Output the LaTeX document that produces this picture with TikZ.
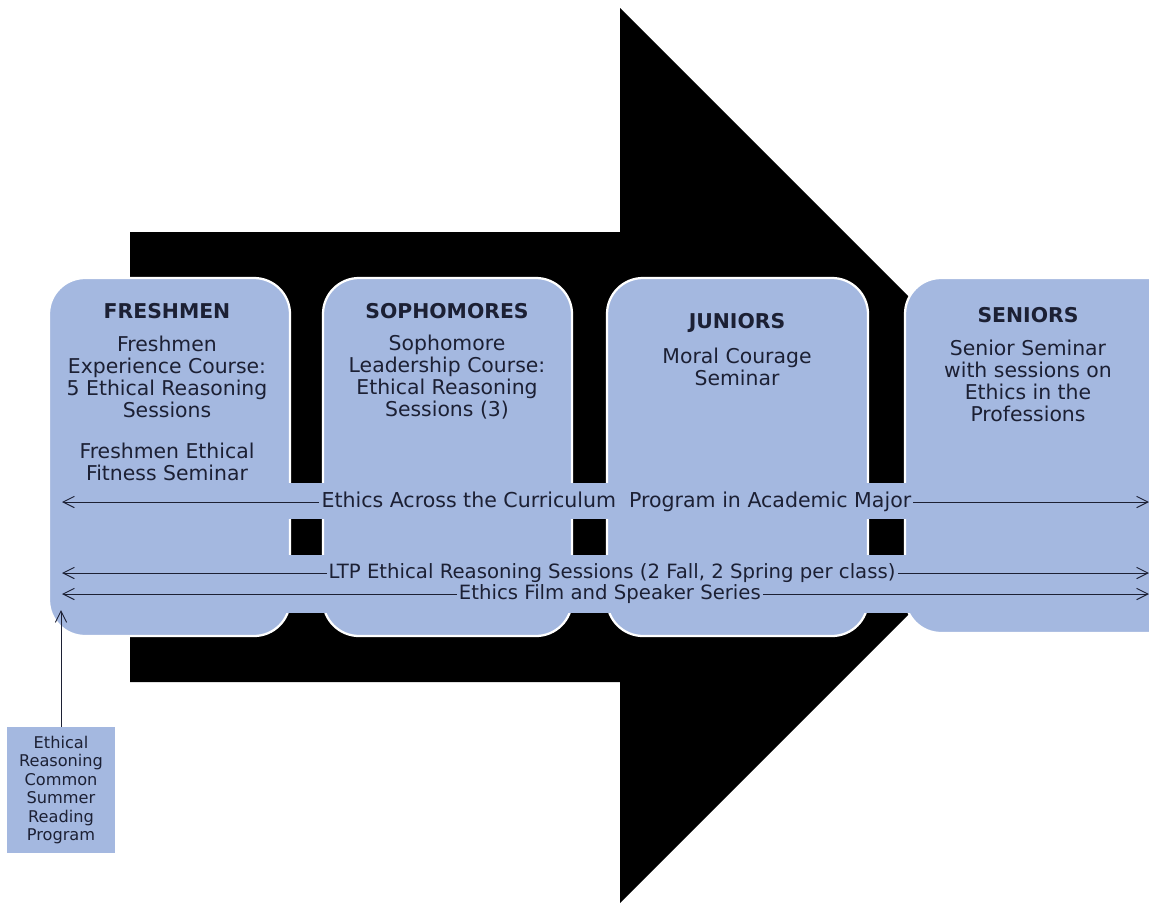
\documentclass[tikz,border=0pt]{standalone}
\usepackage{fontspec}
\setmainfont{DejaVu Sans}
\usetikzlibrary{arrows.meta}

\definecolor{boxblue}{RGB}{164,184,224}
\definecolor{inkblue}{RGB}{28,32,52}

\tikzset{
    yearbox/.style={draw=white, line width=1.6pt, fill=boxblue, rounded corners=0.9cm},
    bandbox/.style={fill=boxblue},
    yearhead/.style={font=\fontsize{14.5}{17}\selectfont\bfseries, text=inkblue},
    yeartext/.style={font=\fontsize{14.5}{15.6}\selectfont, text=inkblue, align=center},
    spanline/.style={draw=inkblue, line width=0.7pt, {Straight Barb[length=8pt,width=8pt]}-{Straight Barb[length=8pt,width=8pt]}},
    spantext/.style={font=\fontsize{14}{15.6}\selectfont, text=inkblue, fill=boxblue, inner sep=1.5pt}
}

\begin{document}
\begin{tikzpicture}[x=0.025cm, y=-0.025cm]
    \clip (0,0) rectangle (1149,903);
    \useasboundingbox (0,0) rectangle (1149,903);
    % big black arrow
    \fill[black] (130,232) -- (620,232) -- (620,8) -- (1067.5,455.5) -- (620,903) -- (620,682) -- (130,682) -- cycle;
    % the four years
    \path[yearbox] (49,278) rectangle (290,636);
    \path[yearbox] (323,278) rectangle (572,636);
    \path[yearbox] (607,278) rectangle (868,636);
    \path[yearbox] (905,278) rectangle (1190,633);
    \fill[bandbox] (55,483) rectangle (1149,519);
    \fill[bandbox] (55,555) rectangle (1149,613);

    \node[yearhead] (frhead) at (167,311) {FRESHMEN};
    \node[yeartext] (frtext) at (167,377) {Freshmen\\Experience Course:\\5 Ethical Reasoning\\Sessions};
    \node[yeartext] (frfit) at (167,462) {Freshmen Ethical\\Fitness Seminar};
    \node[yearhead] (sohead) at (447,311) {SOPHOMORES};
    \node[yeartext] (sotext) at (447,377) {Sophomore\\Leadership Course:\\Ethical Reasoning\\Sessions (3)};
    \node[yearhead] (juhead) at (737,323) {JUNIORS};
    \node[yeartext] (jutext) at (737,367) {Moral Courage\\Seminar};
    \node[yearhead] (sehead) at (1028,315) {SENIORS};
    \node[yeartext] (setext) at (1028,381) {Senior Seminar\\with sessions on\\Ethics in the\\Professions};

    % programs running through all four years
    \coordinate (acl) at (62,502);  \coordinate (acr) at (1149,502);
    \coordinate (ltl) at (62,573);  \coordinate (ltr) at (1149,573);
    \coordinate (fil) at (62,594);  \coordinate (fir) at (1149,594);
    \draw[spanline] (acl) -- node[spantext, pos=0.51, font=\fontsize{14.6}{15.6}\selectfont] (actext) {Ethics Across the Curriculum\ \ Program in Academic Major} (acr);
    \draw[spanline] (ltl) -- node[spantext, pos=0.506] (lttext) {LTP Ethical Reasoning Sessions (2 Fall, 2 Spring per class)} (ltr);
    \draw[spanline] (fil) -- node[spantext, pos=0.504, inner ysep=0.5pt] (fitext) {Ethics Film and Speaker Series} (fir);

    % summer reading
    \node[fill=boxblue, minimum width=2.7cm, minimum height=3.15cm, align=center, text=inkblue,
          font=\fontsize{11.5}{13.2}\selectfont] (reading) at (61,790)
          {Ethical\\Reasoning\\Common\\Summer\\Reading\\Program};
    \coordinate (readtip) at (61,610);
    \draw[draw=inkblue, line width=0.7pt, -{Straight Barb[length=8pt,width=8pt]}] (reading) -- (readtip);
\end{tikzpicture}
\end{document}
